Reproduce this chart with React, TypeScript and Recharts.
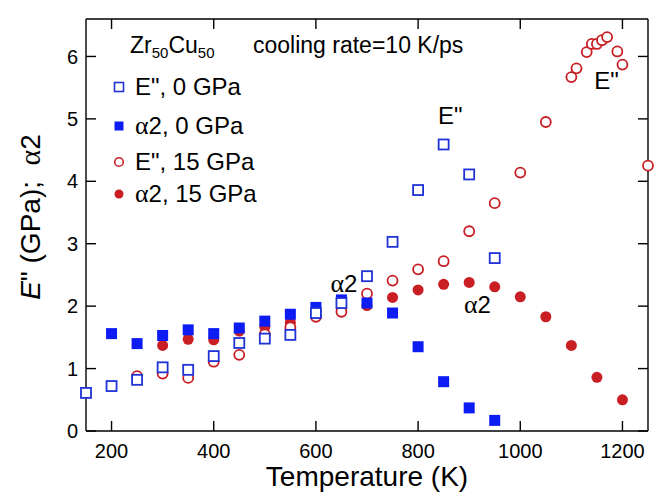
import React from 'react';
import { ScatterChart, Scatter, XAxis, YAxis, ReferenceDot, Legend } from 'recharts';

const FONT = '"Liberation Sans", Arial, Helvetica, sans-serif';
const SERIF = '"Liberation Serif", "Times New Roman", serif';
const BLUE_OPEN = '#1f33d6';
const BLUE = '#0d1cf2';
const RED = '#c81e24';

// ---- data ----
const xTicks = [200, 400, 600, 800, 1000, 1200];
const yTicks = [0, 1, 2, 3, 4, 5, 6];

const tempE0 = [150, 200, 250, 300, 350, 400, 450, 500, 550, 600, 650, 700, 750, 800, 850, 900, 950];
const valE0 = [0.61, 0.72, 0.82, 1.02, 0.98, 1.2, 1.41, 1.48, 1.54, 1.89, 2.05, 2.48, 3.03, 3.86, 4.59, 4.11, 2.77];

const tempA0 = [200, 250, 300, 350, 400, 450, 500, 550, 600, 650, 700, 750, 800, 850, 900, 950];
const valA0 = [1.56, 1.4, 1.53, 1.62, 1.56, 1.65, 1.76, 1.87, 1.98, 2.1, 2.05, 1.89, 1.35, 0.79, 0.37, 0.17];

const tempE15 = [250, 300, 350, 400, 450, 500, 550, 600, 650, 700, 750, 800, 850, 900, 950, 1000, 1050, 1100, 1110, 1130, 1140, 1150, 1160, 1170, 1190, 1200, 1250];
const valE15 = [0.88, 0.92, 0.85, 1.11, 1.22, 1.55, 1.66, 1.83, 1.91, 2.2, 2.41, 2.59, 2.72, 3.2, 3.65, 4.14, 4.95, 5.67, 5.81, 6.07, 6.2, 6.2, 6.26, 6.31, 6.08, 5.87, 4.25];

const tempA15 = [300, 350, 400, 450, 500, 550, 600, 650, 700, 750, 800, 850, 900, 950, 1000, 1050, 1100, 1150, 1200];
const valA15 = [1.37, 1.47, 1.46, 1.6, 1.67, 1.74, 1.84, 1.93, 2.01, 2.14, 2.26, 2.35, 2.38, 2.31, 2.15, 1.83, 1.37, 0.86, 0.5];

// label parts: [symbol, rest]
const seriesLabels: [string, string][] = [
  ['E', '", 0 GPa'],
  ['\u03b1', '2, 0 GPa'],
  ['E', '", 15 GPa'],
  ['\u03b1', '2, 15 GPa'],
];
const seriesNames = seriesLabels.map((l) => l[0] + l[1]);

const annotations = [
  { x: 863, y: 5.05, text: 'E"' },
  { x: 1169, y: 5.6, text: 'E"' },
  { x: 655, y: 2.36, text: '\u03b12' },
  { x: 916, y: 2.02, text: '\u03b12' },
];

const toPoints = (xs: number[], ys: number[]) => xs.map((x, i) => ({ x, y: ys[i] }));

const dataE0 = toPoints(tempE0, valE0);
const dataA0 = toPoints(tempA0, valA0);
const dataE15 = toPoints(tempE15, valE15);
const dataA15 = toPoints(tempA15, valA15);

// text with alpha drawn in a serif face
const Rich = ({ s }: { s: string }) => {
  const parts = s.split(/(\u03b1)/).filter((p) => p !== '');
  return (
    <>
      {parts.map((p, i) =>
        p === '\u03b1' ? (
          <tspan key={i} fontFamily={SERIF} fontSize="1.08em">{p}</tspan>
        ) : (
          <tspan key={i}>{p}</tspan>
        )
      )}
    </>
  );
};

// ---- marker shapes ----
const OpenSquare = (p: any) => (
  <rect x={p.cx - 5} y={p.cy - 5} width={10} height={10} fill="#fff" stroke={BLUE_OPEN} strokeWidth={1.8} />
);
const FilledSquare = (p: any) => (
  <rect x={p.cx - 5.5} y={p.cy - 5.5} width={11} height={11} fill={BLUE} stroke="none" />
);
const OpenCircle = (p: any) => (
  <circle cx={p.cx} cy={p.cy} r={5} fill="#fff" stroke={RED} strokeWidth={1.8} />
);
const FilledCircle = (p: any) => (
  <circle cx={p.cx} cy={p.cy} r={5.5} fill={RED} stroke="none" />
);

const legendMarkers = [
  (x: number, y: number) => <rect x={x - 4.5} y={y - 4.5} width={9} height={9} fill="#fff" stroke={BLUE_OPEN} strokeWidth={1.6} />,
  (x: number, y: number) => <rect x={x - 4.5} y={y - 4.5} width={9} height={9} fill={BLUE} />,
  (x: number, y: number) => <circle cx={x} cy={y} r={4.3} fill="#fff" stroke={RED} strokeWidth={1.6} />,
  (x: number, y: number) => <circle cx={x} cy={y} r={4.5} fill={RED} />,
];
const legendRowY = [79, 118, 154, 186];

const Overlay = () => (
  <svg width={664} height={485} style={{ position: 'absolute', left: 0, top: 0, overflow: 'visible' }}>
    <text x={122} y={45} fontFamily={FONT} fontSize={23} fill="#000">
      Zr<tspan fontSize={15} dy={5}>50</tspan>
      <tspan dy={-5}>Cu</tspan>
      <tspan fontSize={15} dy={5}>50</tspan>
    </text>
    <text x={245} y={45} fontFamily={FONT} fontSize={23} fill="#000">cooling rate=10 K/ps</text>
    {seriesNames.map((name, i) => (
      <g key={name}>
        {legendMarkers[i](111, legendRowY[i])}
        <text x={127} y={legendRowY[i] + 8} fontFamily={FONT} fontSize={24} fill="#000">
          <Rich s={name} />
        </text>
      </g>
    ))}
  </svg>
);

const XTitle = (props: any) => {
  const vb = props.viewBox || { x: 78, y: 423, width: 562, height: 62 };
  return (
    <text x={vb.x + vb.width / 2} y={vb.y + 55} textAnchor="middle" fontFamily={FONT} fontSize={28} fill="#000">
      Temperature (K)
    </text>
  );
};

const YTitle = (props: any) => {
  const vb = props.viewBox || { x: 0, y: 11, width: 78, height: 412 };
  const x = 32;
  const y = vb.y + vb.height / 2 - 8;
  return (
    <text x={x} y={y} transform={`rotate(-90, ${x}, ${y})`} textAnchor="middle" fontFamily={FONT} fontSize={28} fill="#000">
      <tspan fontStyle="italic">E</tspan>
      <tspan>{'" (GPa);\u00a0\u00a0'}</tspan>
      <tspan fontFamily={SERIF} fontSize={30}>{'\u03b1'}</tspan>
      <tspan>2</tspan>
    </text>
  );
};

const AnnoLabel = (props: any) => {
  const vb = props.viewBox || { x: 0, y: 0, width: 0, height: 0 };
  const cx = vb.x + (vb.width || 0) / 2;
  const cy = vb.y + (vb.height || 0) / 2;
  return (
    <text x={cx} y={cy + 8} textAnchor="middle" fontFamily={FONT} fontSize={24} fill="#000">
      <Rich s={props.value} />
    </text>
  );
};

const axisLine = { stroke: '#000', strokeWidth: 1.4 };
const tickStyle = { fill: '#000', fontSize: 20, fontFamily: FONT };

export default function App() {
  return (
    <ScatterChart width={664} height={485} margin={{ top: 1, right: 4, bottom: 0, left: 0 }}>
      <XAxis
        xAxisId="b"
        type="number"
        dataKey="x"
        domain={[150, 1250]}
        ticks={xTicks}
        height={62}
        tickSize={-10}
        tickMargin={23}
        axisLine={axisLine}
        tickLine={axisLine}
        tick={tickStyle}
        label={<XTitle />}
      />
      <XAxis
        xAxisId="t"
        orientation="top"
        type="number"
        dataKey="x"
        domain={[150, 1250]}
        ticks={xTicks}
        allowDataOverflow
        height={10}
        tickSize={-10}
        tickFormatter={() => ''}
        axisLine={axisLine}
        tickLine={axisLine}
      />
      <YAxis
        yAxisId="l"
        type="number"
        dataKey="y"
        domain={[0, 6.6]}
        ticks={yTicks}
        width={78}
        tickSize={-10}
        tickMargin={18}
        axisLine={axisLine}
        tickLine={axisLine}
        tick={tickStyle}
        label={<YTitle />}
      />
      <YAxis
        yAxisId="r"
        orientation="right"
        type="number"
        dataKey="y"
        domain={[0, 6.6]}
        ticks={yTicks}
        allowDataOverflow
        width={20}
        tickSize={-10}
        tickFormatter={() => ''}
        axisLine={axisLine}
        tickLine={axisLine}
      />
      <Scatter name={seriesNames[3]} data={dataA15} xAxisId="b" yAxisId="l" shape={FilledCircle} isAnimationActive={false} />
      <Scatter name={seriesNames[2]} data={dataE15} xAxisId="b" yAxisId="l" shape={OpenCircle} isAnimationActive={false} />
      <Scatter name={seriesNames[1]} data={dataA0} xAxisId="b" yAxisId="l" shape={FilledSquare} isAnimationActive={false} />
      <Scatter name={seriesNames[0]} data={dataE0} xAxisId="b" yAxisId="l" shape={OpenSquare} isAnimationActive={false} />
      {annotations.map((a, i) => (
        <ReferenceDot
          key={i}
          x={a.x}
          y={a.y}
          r={0}
          xAxisId="b"
          yAxisId="l"
          fill="none"
          stroke="none"
          label={<AnnoLabel value={a.text} />}
        />
      ))}
      <Legend
        layout="vertical"
        align="center"
        verticalAlign="middle"
        content={() => <Overlay />}
        wrapperStyle={{ position: 'absolute', left: 0, top: 0, width: 664, height: 485, pointerEvents: 'none' }}
      />
    </ScatterChart>
  );
}
